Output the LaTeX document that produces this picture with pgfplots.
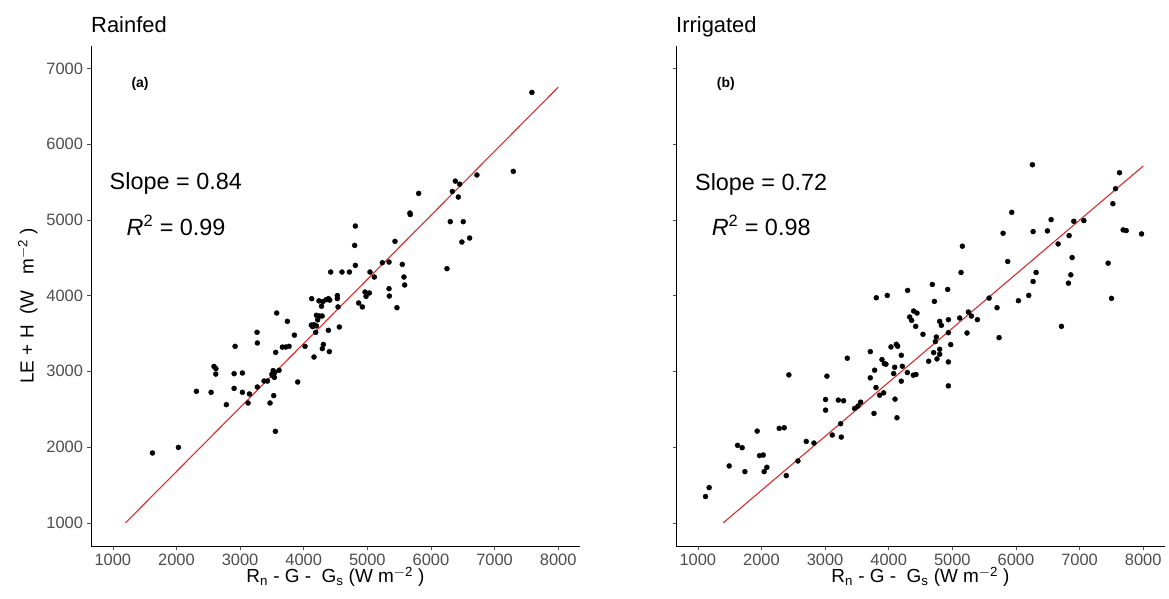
\documentclass[border=0pt]{standalone}
\usepackage{fontspec}
\setmainfont{Liberation Sans}
\usepackage{pgfplots}
\pgfplotsset{compat=1.18}
\definecolor{tickgray}{RGB}{77,77,77}
\definecolor{fitred}{RGB}{215,45,45}
\pgfplotsset{
  panel/.style={
    scale only axis, width=489bp, height=500bp,
    xmin=657, xmax=8343, ymin=694, ymax=7295,
    axis lines*=left,
    axis line style={black, line width=0.7bp},
    xtick={1000,2000,...,8000}, ytick={1000,2000,...,7000},
    tick align=outside, major tick length=3.5bp,
    tick style={tickgray, line width=0.6bp},
    tick label style={font=\fontsize{16.5}{18}\selectfont, text=tickgray},
    /pgf/number format/assume math mode=true,
    /pgf/number format/1000 sep={},
    xticklabel style={yshift=-1bp},
    yticklabel style={xshift=-1bp},
    label style={font=\fontsize{19}{22}\selectfont},
    xlabel={R\textsubscript{n}\ -\ G\ -\ \ G\textsubscript{s}\ (W\ m\textsuperscript{$-$2}\ )},
    xlabel style={yshift=5bp},
    clip=false,
  },
  dots/.style={only marks, mark=*, mark size=2.5bp, mark options={fill=black, draw=black}},
  fit/.style={fitred, line width=1.1bp, no marks},
}
\begin{document}
\begin{tikzpicture}
\path[use as bounding box] (-91bp,-53bp) rectangle (1078bp,546bp);
\begin{axis}[panel, at={(0,0)},
  ylabel={LE\ +\ H\ \ (W\ \ \ m\textsuperscript{$-$2}\ )}, ylabel style={yshift=2bp, xshift=-10bp}]
\addplot[dots] coordinates {
(1623,1922) (2031,1996) (2314,2736) (2545,2723) (2785,2560)
(2590,3065) (2620,3035) (2618,2964) (2906,2969) (2906,2775)
(3037,2978) (3037,2723) (2922,3330) (3126,2582) (3147,2701)
(3267,3515) (3272,3374) (3272,2793) (3377,2872) (3430,2872)
(3471,2582) (3500,2960) (3520,3010) (3515,2940) (3540,2920) (3545,2985)
(3529,2679) (3555,2208) (3560,3250) (3576,3770) (3613,3013)
(3665,3320) (3718,3321) (3770,3330) (3744,3660) (3854,3478)
(3906,2859) (4021,3330) (4126,3959) (4120,3610) (4140,3590) (4160,3615) (4200,3600)
(4162,3189) (4189,3515) (4200,3740) (4220,3680) (4250,3730) (4290,3730)
(4240,3930) (4280,3860) (4300,3920) (4350,3945) (4390,3960) (4410,3940)
(4309,3355) (4293,3300) (4388,3541) (4403,3260) (4424,4311)
(4529,4000) (4529,3960) (4540,3850) (4560,3585) (4602,4311)
(4718,4311) (4801,4663) (4812,4918) (4812,4399) (4864,3902)
(4922,3850) (4964,4047) (4980,3990) (5032,4034) (5042,4311)
(5110,4245) (5236,4434) (5341,4443) (5341,4091) (5346,3994)
(5435,4716) (5466,3840) (5550,4412) (5576,4245) (5587,4140)
(5670,5090) (5675,5070) (5807,5349) (6252,4355) (6304,4976)
(6336,5375) (6383,5511) (6451,5471) (6430,5301) (6487,4707)
(6508,4976) (6608,4760) (6723,5592) (7294,5640) (7587,6682)
};
\addplot[fit] coordinates {(1200,1000) (8000,6750)};
\node[font=\bfseries\fontsize{14}{16}\selectfont] at (axis cs:1429,6797) {(a)};
\node[font=\fontsize{23.5}{27}\selectfont] at (axis cs:1990,5477) {Slope = 0.84};
\node[font=\fontsize{23.5}{27}\selectfont] at (axis cs:1995,4927) {\itshape R\textsuperscript{\upshape 2}\upshape\ =\ 0.99};
\node[font=\fontsize{22}{26}\selectfont, anchor=base west, inner sep=0pt] at ([yshift=13bp]rel axis cs:0,1) {Rainfed};
\end{axis}
\begin{axis}[panel, at={(585bp,0)}, yticklabels={}]
\addplot[dots] coordinates {
(1121,1347) (1178,1465) (1493,1751) (1624,2023) (1697,1992)
(1739,1676) (1933,2211) (1970,1887) (2028,1895) (2043,1676)
(2085,1733) (2279,2247) (2358,2255) (2390,1623) (2431,2953)
(2573,1816) (2704,2075) (2825,2053) (3008,2628) (3008,2488)
(3029,2936) (3113,2159) (3208,2620) (3291,2611) (3244,2308)
(3255,2132) (3349,3173) (3464,2510) (3517,2541) (3559,2593)
(3711,3260) (3711,2914) (3769,2444) (3779,3015) (3800,2786)
(3805,3971) (3858,2685) (3921,2716) (3894,3155) (3931,3102)
(3957,3094) (3978,4002) (4036,3322) (4078,2971) (4094,3054)
(4099,2633) (4120,3357) (4141,3331) (4130,2387) (4198,3212)
(4198,2870) (4214,3067) (4293,2984) (4298,4068) (4330,3717)
(4361,3673) (4387,2949) (4429,2958) (4392,3796) (4445,3769)
(4424,3594) (4539,3489) (4628,3133) (4686,4147) (4707,3247)
(4718,3923) (4733,3392) (4749,3453) (4759,3164) (4801,3291)
(4801,3225) (4801,3660) (4828,3607) (4927,4081) (4938,3682)
(4938,3510) (4938,3124) (4938,2808) (4975,3353) (5116,3704)
(5137,4305) (5158,4652) (5231,3506) (5252,3783) (5300,3730)
(5394,3682) (5578,3967) (5703,3840) (5735,3445) (5798,4823)
(5871,4450) (5934,5099) (6039,3932) (6201,4002) (6259,5727)
(6270,4845) (6270,4186) (6317,4305) (6495,4854) (6553,5003)
(6663,4682) (6715,3594) (6825,4164) (6836,4792) (6862,4274)
(6883,4502) (6909,4981) (7067,4990) (7449,4428) (7502,3963)
(7523,5213) (7565,5411) (7628,5622) (7685,4867) (7733,4858)
(7974,4814)
};
\addplot[fit] coordinates {(1400,1000) (8000,5710)};
\node[font=\bfseries\fontsize{14}{16}\selectfont] at (axis cs:1440,6789) {(b)};
\node[font=\fontsize{23.5}{27}\selectfont] at (axis cs:1996,5472) {Slope = 0.72};
\node[font=\fontsize{23.5}{27}\selectfont] at (axis cs:1996,4924) {\itshape R\textsuperscript{\upshape 2}\upshape\ =\ 0.98};
\node[font=\fontsize{22}{26}\selectfont, anchor=base west, inner sep=0pt] at ([yshift=13bp]rel axis cs:0,1) {Irrigated};
\end{axis}
\end{tikzpicture}
\end{document}
